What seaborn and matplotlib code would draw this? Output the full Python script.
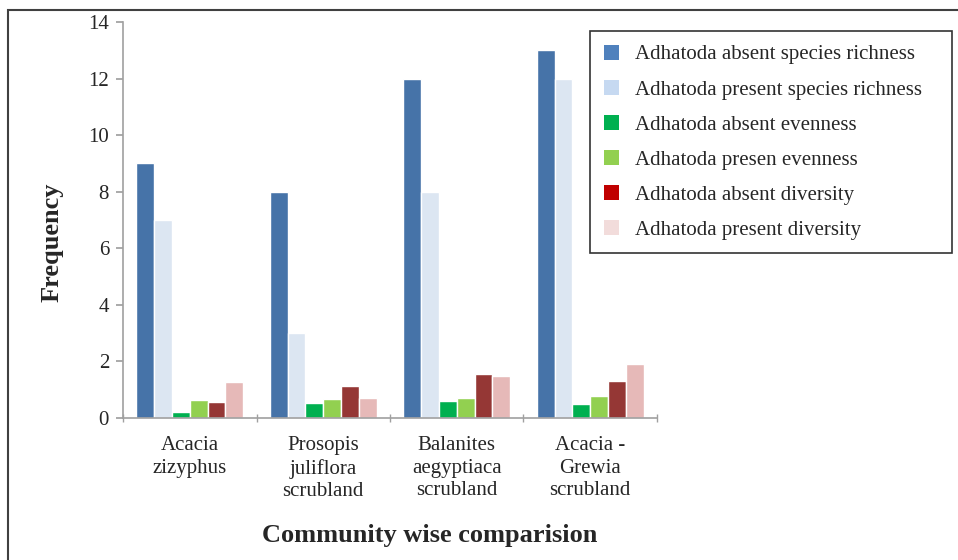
import pandas as pd
import matplotlib
matplotlib.use('Agg')
from matplotlib import pyplot as plt
from matplotlib.patches import Patch, Rectangle
import seaborn as sns

# community groups (x axis)
communities = ['Acacia\nzizyphus', 'Prosopis\njuliflora\nscrubland',
               'Balanites\naegyptiaca\nscrubland', 'Acacia -\nGrewia\nscrubland']

series_names = ['Adhatoda absent species richness', 'Adhatoda present species richness',
                'Adhatoda absent evenness', 'Adhatoda presen evenness',
                'Adhatoda absent diversity', 'Adhatoda present diversity']

absent_richness = [9, 8, 12, 13]
present_richness = [7, 3, 8, 12]
absent_evenness = [0.22, 0.53, 0.6, 0.49]
present_evenness = [0.64, 0.67, 0.69, 0.76]
absent_diversity = [0.57, 1.13, 1.57, 1.29]
present_diversity = [1.27, 0.72, 1.47, 1.91]

bar_colors = ['#4673A8', '#DCE6F2', '#00B050', '#92D050', '#953735', '#E6B9B8']
legend_colors = ['#4F81BD', '#C6D9F1', '#00B050', '#92D050', '#C00000', '#F2DCDB']

values = [absent_richness, present_richness, absent_evenness,
          present_evenness, absent_diversity, present_diversity]
rows = []
for name, vals in zip(series_names, values):
    for comm, v in zip(communities, vals):
        rows.append({'Community': comm, 'Series': name, 'Value': v})
df = pd.DataFrame(rows)

sns.set_theme(style='white')
plt.rcParams['font.family'] = ['Liberation Serif', 'DejaVu Serif']

fig = plt.figure(figsize=(9.58, 5.6), dpi=100)
ax = fig.add_axes([0.1284, 0.2536, 0.5574, 0.7071])

sns.barplot(data=df, x='Community', y='Value', hue='Series', hue_order=series_names,
            palette=bar_colors, width=0.8, saturation=1, ax=ax, legend=False)

ax.set_ylim(0, 14)
ax.set_yticks(range(0, 15, 2))
ax.set_xlim(-0.5, 3.5)
ax.set_xticks([-0.5, 0.5, 1.5, 2.5, 3.5])
ax.set_xticklabels([])
ax.set_xticks(range(4), minor=True)
ax.set_xticklabels(communities, minor=True, fontsize=15, linespacing=1.25)
ax.tick_params(axis='x', which='minor', bottom=True, length=0, pad=13)
ax.tick_params(axis='x', which='major', bottom=True, length=6, direction='inout',
               color='#A0A0A0', width=1)
ax.tick_params(axis='y', left=True, length=5, direction='out', color='#A0A0A0',
               labelsize=15, pad=5)

for side in ['top', 'right']:
    ax.spines[side].set_visible(False)
for side in ['left', 'bottom']:
    ax.spines[side].set_color('#A0A0A0')
    ax.spines[side].set_linewidth(1.2)

ax.set_xlabel('Community wise comparision', fontsize=19, fontweight='bold')
ax.xaxis.set_label_coords(0.575, -0.267)
ax.set_ylabel('Frequency', fontsize=19, fontweight='bold')
ax.yaxis.set_label_coords(-0.112, 0.444)

handles = [Patch(facecolor=c, edgecolor='none') for c in legend_colors]
leg_left = 590 / 958
leg_top = 1 - 31 / 560
leg = fig.legend(handles, series_names, loc='upper left',
                 bbox_to_anchor=(leg_left, leg_top - 0.3, 952 / 958 - leg_left, 0.3),
                 mode='expand', frameon=True, fancybox=False,
                 borderaxespad=0, fontsize=15, handlelength=0.75, handleheight=0.75,
                 handletextpad=0.75, labelspacing=0.73, borderpad=0.65)
leg.get_frame().set_edgecolor('black')
leg.get_frame().set_linewidth(1.2)

# outer border around the whole chart
fig.patches.append(Rectangle((8 / 958, -0.1), 1.1, 1 - 10 / 560 + 0.1, transform=fig.transFigure,
                             fill=False, edgecolor='#404040', linewidth=1.5, clip_on=False))

fig.savefig('out.png', dpi=100)
